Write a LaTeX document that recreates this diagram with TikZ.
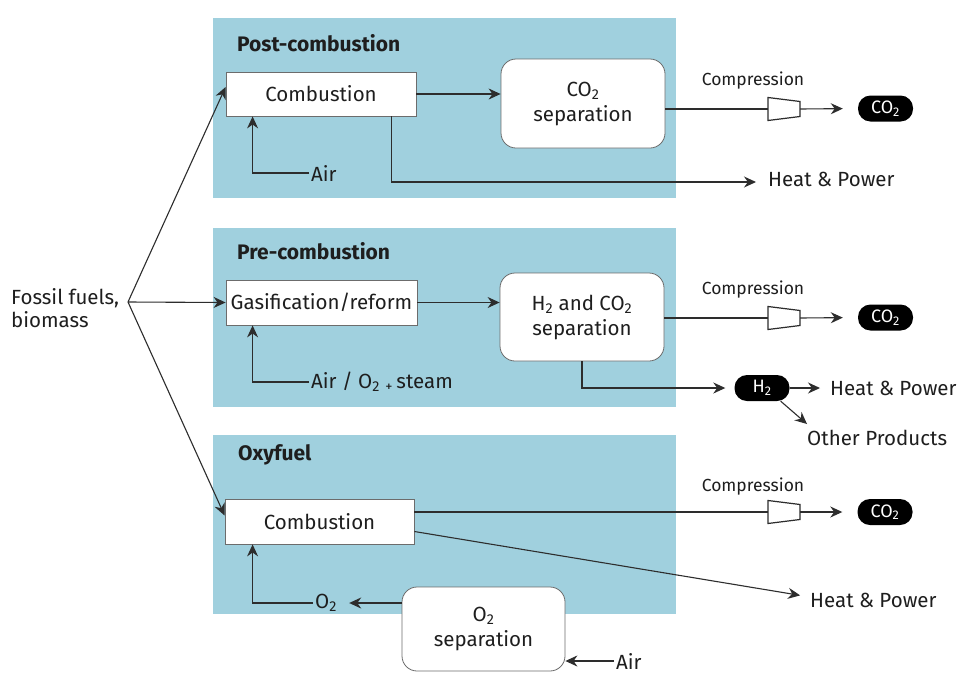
\documentclass[tikz,border=0pt]{standalone}
\usepackage{fontspec}
\setmainfont{Fira Sans}
\usetikzlibrary{arrows.meta,calc}
\definecolor{panelc}{RGB}{160,208,222}
\definecolor{linec}{RGB}{45,45,45}
\definecolor{txtc}{RGB}{30,30,30}
\tikzset{
  panel/.style={fill=panelc},
  ttl/.style={anchor=west, font=\fontsize{21}{23}\selectfont\bfseries, text=txtc, inner sep=0pt},
  lbl/.style={font=\fontsize{20.5}{23}\selectfont, text=txtc},
  small/.style={font=\fontsize{17.5}{19}\selectfont, text=txtc},
  box/.style={draw=linec!70, fill=white, line width=0.8pt, inner sep=0pt, lbl},
  rbox/.style={box, rounded corners=15pt, align=center, font=\fontsize{20.5}{25}\selectfont},
  pill/.style={fill=black, text=white, rounded corners=12.5pt, minimum width=55pt, minimum height=26pt, inner sep=0pt, font=\fontsize{18}{20}\selectfont},
  ar/.style={draw=linec, line width=1.1pt, -{Stealth[length=12pt,width=11pt]}},
  ln/.style={draw=linec, line width=1.1pt},
  comp/.pic={\draw[linec, fill=white, line width=1.2pt] (0,-11.5) -- (32,-7.5) -- (32,7.5) -- (0,11.5) -- cycle; \coordinate (-out) at (32,0);}
}
\begin{document}
\begin{tikzpicture}[x=1pt,y=-1pt]
\useasboundingbox (0,0) rectangle (959,673);
\fill[white] (0,0) rectangle (959,673);
% panels
\fill[panel] (213,18) rectangle (676,198);
\fill[panel] (213,228) rectangle (676,407);
\fill[panel] (213,435) rectangle (676,614);
\node[ttl] (t1) at (237,43) {Post-combustion};
\node[ttl] (t2) at (237,251) {Pre-combustion};
\node[ttl] (t3) at (238,455) {Oxyfuel};

% fossil fuels
\node[lbl, align=left, anchor=west, inner sep=0pt] (ff) at (11,308) {Fossil fuels,\\biomass};
\coordinate (j) at (128,302);

% ---------- Post-combustion
\node[box, minimum width=190pt, minimum height=44pt] (c1) at (321,94) {Combustion\hspace{17pt}};
\node[rbox, minimum width=164pt, minimum height=89pt] (s1) at (583,103.5) {CO\textsubscript{2}\\separation};
\draw[ar] (c1.east) -- (c1.east -| s1.west);
\node[lbl, anchor=west, inner sep=2pt] (air1) at (309,173) {Air};
\draw[ar] (air1.west) -| ([xshift=27pt]c1.south west);
\node[lbl, anchor=west, inner sep=0pt] (hp1) at (768,179) {Heat \& Power};
\draw[ar] ([xshift=166pt]c1.south west) |- ([xshift=-12pt,yshift=-3pt]hp1.west);
\coordinate (k1) at (768,109);
\pic (kp1) at (k1) {comp};
\node[small] (cp1) at (753,81) {Compression};
\node[pill] (p1) at (885.5,108.5) {CO\textsubscript{2}};
\draw[ln] (s1.east |- k1) -- (k1);
\draw[ar, shorten >=15pt] (kp1-out) -- (p1.west);

% ---------- Pre-combustion
\node[box, minimum width=191pt, minimum height=45pt] (g) at (321.5,302.5) {Gasification/reform};
\node[rbox, minimum width=164pt, minimum height=88pt] (h) at (582,317) {H\textsubscript{2} and CO\textsubscript{2}\\separation};
\draw[ar] (g.east) -- (g.east -| h.west);
\node[lbl, anchor=west, inner sep=2pt] (air2) at (309,382) {Air / O\textsubscript{2} \textsubscript{+}\,steam};
\draw[ar] (air2.west) -| ([xshift=27pt]g.south west);
\coordinate (k2) at (768,318);
\pic (kp2) at (k2) {comp};
\node[small] (cp2) at (753,290) {Compression};
\node[pill] (p2) at (885.5,317.5) {CO\textsubscript{2}};
\draw[ln] (h.east |- k2) -- (k2);
\draw[ar, shorten >=15pt] (kp2-out) -- (p2.west);
\node[pill] (h2) at (762,388) {H\textsubscript{2}};
\draw[ar, shorten >=9pt] (h.south) |- (h2.west);
\node[lbl, anchor=west, inner sep=0pt] (hp2) at (830,388) {Heat \& Power};
\draw[ar, shorten >=10pt] (h2.east) -- (hp2.west);
\node[lbl, anchor=west, inner sep=0pt] (op) at (807,438) {Other Products};
\draw[ar] ([xshift=-9pt]h2.south east) -- ([yshift=14pt]op.west);

% ---------- Oxyfuel
\node[box, minimum width=189pt, minimum height=45pt] (c3) at (319.5,521.5) {Combustion\hspace{17pt}};
\node[rbox, minimum width=163pt, minimum height=84pt] (o2s) at (483.5,629) {O\textsubscript{2}\\separation};
\node[lbl, anchor=west, inner sep=2pt] (o2) at (313,603) {O\textsubscript{2}};
\draw[ar, shorten >=10pt] (o2s.west |- o2) -- (o2.east);
\draw[ar] (o2.west) -| ([xshift=28pt]c3.south west);
\node[lbl, anchor=west, inner sep=2pt] (air3) at (614,661) {Air};
\draw[ar] (air3.west) -- (air3.west -| o2s.east);
\coordinate (k3) at (768,512);
\pic (kp3) at (k3) {comp};
\node[small] (cp3) at (753,487) {Compression};
\node[pill] (p3) at (885,512) {CO\textsubscript{2}};
\draw[ln] (c3.east |- k3) -- (k3);
\draw[ar, shorten >=15pt] (kp3-out) -- (p3.west);
\node[lbl, anchor=west, inner sep=0pt] (hp3) at (810,600) {Heat \& Power};
\draw[ar, shorten >=10pt] ([yshift=-10pt]c3.east) -- ([yshift=3pt]hp3.west);

% fan from fossil fuels
\draw[ar] (j) -- ([yshift=7pt]c1.west);
\draw[ar] (j) -- (g.west);
\draw[ar] (j) -- ([yshift=6pt]c3.west);
\end{tikzpicture}
\end{document}
